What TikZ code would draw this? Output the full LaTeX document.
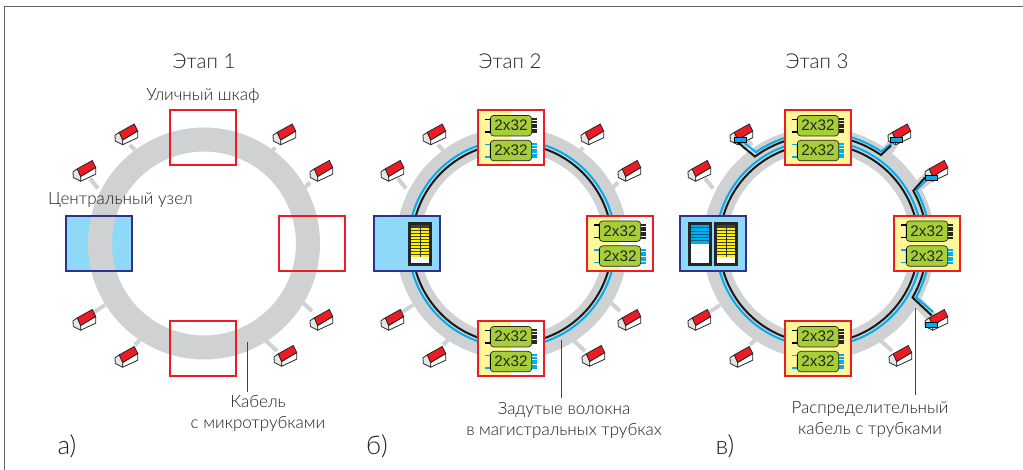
\documentclass[tikz,border=0pt]{standalone}
\usepackage{fontspec}
\setmainfont{Lato Light}
\newfontfamily\modfont{Liberation Sans}
\definecolor{ringgray}{HTML}{CFD1D3}
\definecolor{fibblue}{HTML}{00AEEF}
\definecolor{boxred}{HTML}{ED1C24}
\definecolor{nodeblue}{HTML}{2E3192}
\definecolor{nodefill}{HTML}{8ED8F8}
\definecolor{cabyellow}{HTML}{FFF799}
\definecolor{modgreen}{HTML}{A6CE39}
\definecolor{barsyellow}{HTML}{FFF200}
\definecolor{inkgray}{HTML}{231F20}
\tikzset{txt/.style={text=inkgray,inner sep=0pt,align=center}}
\tikzset{big/.style={txt,font=\fontsize{20.5}{24}\selectfont}}
\tikzset{small/.style={txt,font=\fontsize{17}{21}\selectfont}}
\tikzset{letter/.style={txt,font=\fontsize{26}{30}\selectfont}}
\tikzset{ringband/.style={ringgray,line width=24pt}}
\tikzset{stub/.style={ringgray,line width=4pt}}
\tikzset{wedge/.style={ringgray,line width=11pt}}
\tikzset{blk/.style={black!90,line width=2pt}}
\tikzset{blu/.style={fibblue,line width=2pt}}
\tikzset{leader/.style={inkgray!85,line width=1pt}}
\tikzset{cab/.style={draw=boxred,line width=2pt,minimum width=66pt,minimum height=55pt,inner sep=0pt}}
\tikzset{halfyel/.style={cab,fill=white,path picture={\fill[cabyellow] (path picture bounding box.south west) rectangle (path picture bounding box.north);}}}
\tikzset{fullyel/.style={cab,fill=cabyellow}}
\tikzset{central/.style={draw=nodeblue,line width=2pt,minimum width=66pt,minimum height=55pt,inner sep=0pt}}
\tikzset{module/.style={draw=black!85,fill=modgreen,rounded corners=3.5pt,line width=.7pt,minimum width=41.5pt,minimum height=20.5pt,inner sep=0pt,font=\modfont\fontsize{15.3}{16}\selectfont,text=black!85}}
\tikzset{tap/.style={draw=black,line width=.6pt,fill=fibblue,minimum width=12pt,minimum height=5pt,inner sep=0pt}}
\newcommand{\house}[3]{
\begin{scope}[shift={(#2,#3)},line width=.8pt,draw=black!85,line join=round]
\coordinate (#1) at (0,0);
\filldraw[fill=black!10] (-6.7,2.2) -- (-11,-.8) -- (-10.7,-6.5) -- (-3.3,-10.2) -- (-3.3,-5.5) -- cycle;
\filldraw[fill=white] (-3.3,-5.5) -- (11.7,3.5) -- (11.7,-3.2) -- (-3.3,-10.2) -- cycle;
\filldraw[fill=boxred] (-6.7,2.2) -- (8.3,10.5) -- (11.7,3.5) -- (-3.3,-5.5) -- cycle;
\end{scope}}
\newcommand{\modpair}[3]{
\begin{scope}[shift={(#2,#3)}]
\draw[black,line width=1.4pt] (-26.5,18.5) -- (-20,18.5) (-26.5,6) -- (-20,6);
\draw[fibblue,line width=1.4pt] (-26.5,-6.5) -- (-20,-6.5) (-26.5,-19) -- (-20,-19);
\foreach \k in {0,...,5} {
\draw[black!85,line width=2pt] (20,5.5+\k*2.6) -- (25.5,5.5+\k*2.6);
\draw[fibblue,line width=2pt] (20,-19.5+\k*2.6) -- (25.5,-19.5+\k*2.6);
}
\node[module] (#1up) at (0,12.3) {2x32};
\node[module] (#1low) at (0,-12.6) {2x32};
\draw[black,line width=1.3pt] (-20.7,5) -- (-20.7,19.5);
\draw[black,line width=1.3pt] (-20.7,-20) -- (-20.7,-5.5);
\end{scope}}
\newcommand{\yelrack}[2]{
\begin{scope}[shift={(#1,#2)}]
\fill[white] (-10,-20) rectangle (10,20);
\fill[black!75] (-9.5,-13.5) rectangle (9.5,19);
\foreach \k in {0,...,9} {\fill[barsyellow] (-9.5,-13+\k*3) rectangle (9.5,-10.8+\k*3);}
\draw[black!80,line width=.8pt] (0,-13) -- (0,18);
\draw[black!85,line width=2.2pt] (-10.5,-20.5) rectangle (10.5,20.5);
\end{scope}}
\newcommand{\blurack}[2]{
\begin{scope}[shift={(#1,#2)}]
\fill[white] (-10,-20) rectangle (10,20);
\fill[fibblue] (-9.5,0) rectangle (9.5,18);
\foreach \k in {0,...,4} {\fill[fibblue!55!black] (-9.5,3+\k*3.2) rectangle (9.5,3.7+\k*3.2);}
\fill[black!50] (-9.5,18) rectangle (9.5,19);
\draw[black!85,line width=2.2pt] (-10.5,-20.5) rectangle (10.5,20.5);
\end{scope}}
\def\housepos{1/-78/109,2/-120/72.5,3/80/109,4/117/72.5,5/-120/-76.5,6/-78/-113.5,7/81/-112.5,8/117/-76.5}
\begin{document}
\begin{tikzpicture}[x=1pt,y=1pt]
\useasboundingbox (0,0) rectangle (1023,470);
\fill[white] (0,0) rectangle (1023,470);
\draw[black!60,line width=1.2pt] (1023,463.5) -- (4.5,463.5) -- (4.5,0);

\begin{scope}[shift={(204,226.5)}]
\fill[nodefill] (-139,-28.5) rectangle (-71,28.5);
\foreach \n/\sx/\sy/\ex/\ey in {1/-74/98.5/-69/93.5,2/-114/65/-106/55,3/71/96/68/92,4/106/61/101/56,5/-111/-69.5/-99/-61.5,6/-69/-101.5/-64/-96.5,7/73/-107.5/61/-96.5,8/108/-67.5/98/-58.5} {
\coordinate (a\n) at (\sx,\sy);
\coordinate (ar\n) at (\ex,\ey);
\draw[stub] (a\n) -- (ar\n);
}
\draw[ringband] (0,0) circle[radius=104pt];
\foreach \n/\hx/\hy in \housepos {\house{ah\n}{\hx}{\hy}}
\node[central] (acentral) at (-105,0) {};
\node[cab] (atop) at (-1,105.5) {};
\node[cab] (abot) at (-1,-105.5) {};
\node[cab] (aright) at (108,0) {};
\end{scope}

\begin{scope}[shift={(512,226.5)}]
\foreach \n/\sx/\sy/\ex/\ey in {1/-74/98.5/-69/93.5,2/-114/65/-106/55,3/71/96/68/92,4/106/61/101/56,5/-111/-69.5/-99/-61.5,6/-69/-101.5/-64/-96.5,7/73/-107.5/61/-96.5,8/108/-67.5/98/-58.5} {
\coordinate (b\n) at (\sx,\sy);
\coordinate (br\n) at (\ex,\ey);
\draw[stub] (b\n) -- (br\n);
}
\draw[ringband] (0,0) circle[radius=104pt];
\draw[blu] (0,0) circle[radius=103.5pt];
\draw[blk] (0,0) circle[radius=100pt];
\foreach \n/\hx/\hy in \housepos {\house{bh\n}{\hx}{\hy}}
\node[central,fill=nodefill] (bcentral) at (-105,0) {};
\yelrack{-92}{-.5}
\node[halfyel] (btop) at (-1,105.5) {};
\modpair{btop}{-1}{105.5}
\node[halfyel] (bbot) at (-1,-105.5) {};
\modpair{bbot}{-1}{-105.5}
\node[halfyel] (bright) at (108,0) {};
\modpair{bright}{108}{0}
\end{scope}

\begin{scope}[shift={(819,226.5)}]
\foreach \n/\sx/\sy/\ex/\ey in {2/-114/65/-106/55,5/-111/-69.5/-99/-61.5,6/-69/-101.5/-64/-96.5,7/73/-107.5/61/-96.5} {
\coordinate (c\n) at (\sx,\sy);
\coordinate (cr\n) at (\ex,\ey);
\draw[stub] (c\n) -- (cr\n);
}
\coordinate (kb1) at (124.6:111);
\coordinate (kk1) at (126.4:108);
\coordinate (kb3) at (56:111);
\coordinate (kk3) at (55:108);
\coordinate (kb4) at (28.7:111);
\coordinate (kk4) at (29.2:108);
\coordinate (kb8) at (-29:111);
\coordinate (kk8) at (-30:108);
\draw[wedge] (-70,96) -- (-78,107);
\draw[wedge] (68,92) -- (78,106);
\draw[wedge] (100,58) -- (113,69);
\draw[wedge] (98,-58) -- (113,-74);
\draw[ringband] (0,0) circle[radius=104pt];
\draw[blu] (0,0) circle[radius=103pt];
\draw[blk] (0,0) circle[radius=99.5pt];
\foreach \n/\hx/\hy in \housepos {\house{ch\n}{\hx}{\hy}}
\coordinate (hb1) at (-79,104);
\coordinate (hk1) at (-84,103.5);
\coordinate (hb3) at (78,104);
\coordinate (hk3) at (72,98);
\coordinate (hb4) at (110,66);
\coordinate (hk4) at (106,66);
\coordinate (hb8) at (114,-68.5);
\coordinate (hk8) at (112.7,-72);
\draw[blu] (hb1) -- (kb1) arc[start angle=124.6,end angle=95,radius=111pt];
\draw[blk] (hk1) -- (kk1) arc[start angle=126.4,end angle=95,radius=108pt];
\draw[blu] (hb3) -- (kb3) arc[start angle=56,end angle=85,radius=111pt];
\draw[blk] (hk3) -- (kk3) arc[start angle=55,end angle=85,radius=108pt];
\draw[blu] (hb4) -- (kb4) arc[start angle=28.7,end angle=0,radius=111pt];
\draw[blk] (hk4) -- (kk4) arc[start angle=29.2,end angle=0,radius=108pt];
\draw[blu] (hb8) -- (kb8) arc[start angle=-29,end angle=0,radius=111pt];
\draw[blk] (hk8) -- (kk8) arc[start angle=-30,end angle=0,radius=108pt];
\node[tap] (tap1) at (-79,104) {};
\node[tap] (tap3) at (77.5,104) {};
\node[tap] (tap4) at (112.5,66) {};
\node[tap] (tap8) at (112,-81.5) {};
\node[central,fill=nodefill] (ccentral) at (-106,0) {};
\blurack{-119}{-.5}
\yelrack{-93}{-.5}
\node[fullyel] (ctop) at (-1.5,105.5) {};
\modpair{ctop}{-1}{105.5}
\node[fullyel] (cbot) at (-1.5,-105.5) {};
\modpair{cbot}{-1}{-105.5}
\node[fullyel] (cright) at (107.5,0) {};
\modpair{cright}{108}{0}
\end{scope}

\node[big] (stage1) at (204,409) {Этап 1};
\node[big] (stage2) at (510,409) {Этап 2};
\node[big] (stage3) at (817,409) {Этап 3};
\node[small] (cabinet) at (203,373.5) {Уличный шкаф};
\node[small] (hub) at (120.5,270) {Центральный узел};
\node[small] (tube) at (258,57) {Кабель\\с микротрубками};
\node[small] (fibres) at (564,50) {Задутые волокна\\в магистральных трубках};
\node[small] (distr) at (870,50.5) {Распределительный\\кабель с трубками};
\node[letter] (lettera) at (67,24) {а)};
\node[letter] (letterb) at (377,24) {б)};
\node[letter] (letterc) at (725,24) {в)};

\coordinate (tubetip) at (247,128);
\coordinate (tubeend) at (247,78);
\coordinate (fibretip) at (561,130);
\coordinate (fibreend) at (561,72);
\coordinate (distrtip) at (915.7,162);
\coordinate (distrend) at (915.7,75);
\draw[leader] (tubeend) -- (tubetip);
\draw[leader] (fibreend) -- (fibretip);
\draw[leader] (distrend) -- (distrtip);
\end{tikzpicture}
\end{document}
